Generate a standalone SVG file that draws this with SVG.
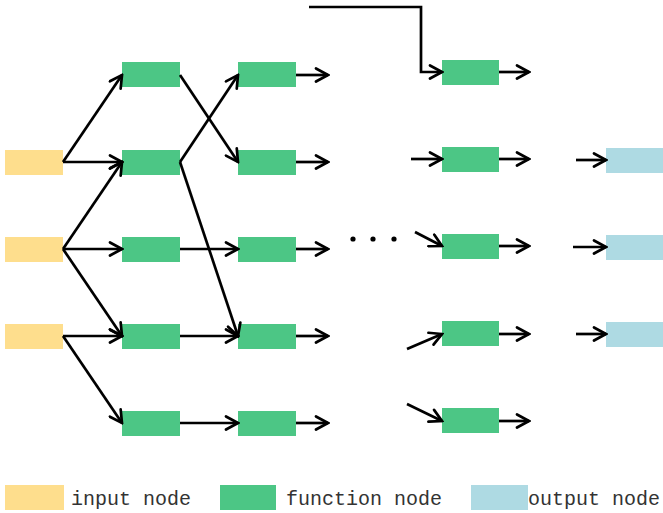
<svg xmlns="http://www.w3.org/2000/svg" width="663" height="513" viewBox="0 0 663 513">
<style>
.in{fill:#FEDE8D}
.fn{fill:#4CC685}
.out{fill:#AEDAE3}
.c{stroke:#000;stroke-width:2.7;fill:none;marker-end:url(#ah);stroke-linejoin:miter}
.lbl{font-family:"Liberation Mono",monospace;font-size:20px;fill:#333}
</style>
<defs>
<marker id="ah" markerUnits="userSpaceOnUse" viewBox="-14 -8 16 16" refX="0" refY="0" markerWidth="16" markerHeight="16" orient="auto">
<path d="M-12,-6.5 L0,0 L-12,6.5" fill="none" stroke="#000" stroke-width="2.7" stroke-linecap="round"/>
</marker>
</defs>
<rect width="663" height="513" fill="#fff"/>
<g id="input1"><rect class="in" x="5" y="150" width="58" height="25"/></g>
<g id="input2"><rect class="in" x="5" y="237" width="58" height="25"/></g>
<g id="input3"><rect class="in" x="5" y="324" width="58" height="25"/></g>
<g id="f11"><rect class="fn" x="122" y="62" width="58" height="25"/></g>
<g id="f12"><rect class="fn" x="122" y="150" width="58" height="25"/></g>
<g id="f13"><rect class="fn" x="122" y="237" width="58" height="25"/></g>
<g id="f14"><rect class="fn" x="122" y="324" width="58" height="25"/></g>
<g id="f15"><rect class="fn" x="122" y="411" width="58" height="25"/></g>
<g id="f21"><rect class="fn" x="238" y="62" width="58" height="25"/></g>
<g id="f22"><rect class="fn" x="238" y="150" width="58" height="25"/></g>
<g id="f23"><rect class="fn" x="238" y="237" width="58" height="25"/></g>
<g id="f24"><rect class="fn" x="238" y="324" width="58" height="25"/></g>
<g id="f25"><rect class="fn" x="238" y="411" width="58" height="25"/></g>
<g id="f31"><rect class="fn" x="442" y="60" width="57" height="25"/></g>
<g id="f32"><rect class="fn" x="442" y="147" width="57" height="25"/></g>
<g id="f33"><rect class="fn" x="442" y="234" width="57" height="25"/></g>
<g id="f34"><rect class="fn" x="442" y="321" width="57" height="25"/></g>
<g id="f35"><rect class="fn" x="442" y="408" width="57" height="25"/></g>
<g id="output1"><rect class="out" x="606" y="148" width="57" height="25"/></g>
<g id="output2"><rect class="out" x="606" y="235" width="57" height="25"/></g>
<g id="output3"><rect class="out" x="606" y="322" width="57" height="25"/></g>
<g id="connectors">
<path class="c" d="M63,162 L122,75"/>
<path class="c" d="M63,162 L122,162"/>
<path class="c" d="M63,249 L122,162"/>
<path class="c" d="M63,249 L122,249"/>
<path class="c" d="M63,249 L122,336"/>
<path class="c" d="M63,336 L122,336"/>
<path class="c" d="M63,336 L122,423"/>
<path class="c" d="M180,75 L238,162"/>
<path class="c" d="M180,162 L238,75"/>
<path class="c" d="M180,162 L238,336"/>
<path class="c" d="M180,249 L238,249"/>
<path class="c" d="M180,336 L238,336"/>
<path class="c" d="M180,423 L238,423"/>
<path class="c" d="M296,75 L328,75"/>
<path class="c" d="M296,162 L328,162"/>
<path class="c" d="M296,249 L328,249"/>
<path class="c" d="M296,336 L328,336"/>
<path class="c" d="M296,423 L328,423"/>
<path class="c" d="M309,7 L421,7 L421,72 L442,72"/>
<path class="c" d="M411,159 L442,159"/>
<path class="c" d="M415,232 L442,246"/>
<path class="c" d="M407,349 L442,334"/>
<path class="c" d="M407,404 L442,421"/>
<path class="c" d="M499,72 L529,72"/>
<path class="c" d="M499,159 L529,159"/>
<path class="c" d="M499,246 L529,246"/>
<path class="c" d="M499,334 L529,334"/>
<path class="c" d="M499,421 L529,421"/>
<path class="c" d="M576,160 L606,160"/>
<path class="c" d="M573,247 L606,247"/>
<path class="c" d="M576,334 L606,334"/>
</g>
<g id="ellipsis" fill="#000">
<circle cx="353" cy="239" r="2.6"/>
<circle cx="373" cy="239" r="2.6"/>
<circle cx="394" cy="239" r="2.6"/>
</g>
<g id="legend">
<rect class="in" x="5" y="485" width="59" height="25"/>
<text class="lbl" x="71" y="505">input node</text>
<rect class="fn" x="220" y="485" width="56" height="25"/>
<text class="lbl" x="286" y="505">function node</text>
<rect class="out" x="471" y="485" width="57" height="25"/>
<text class="lbl" x="528" y="505">output node</text>
</g>
</svg>
